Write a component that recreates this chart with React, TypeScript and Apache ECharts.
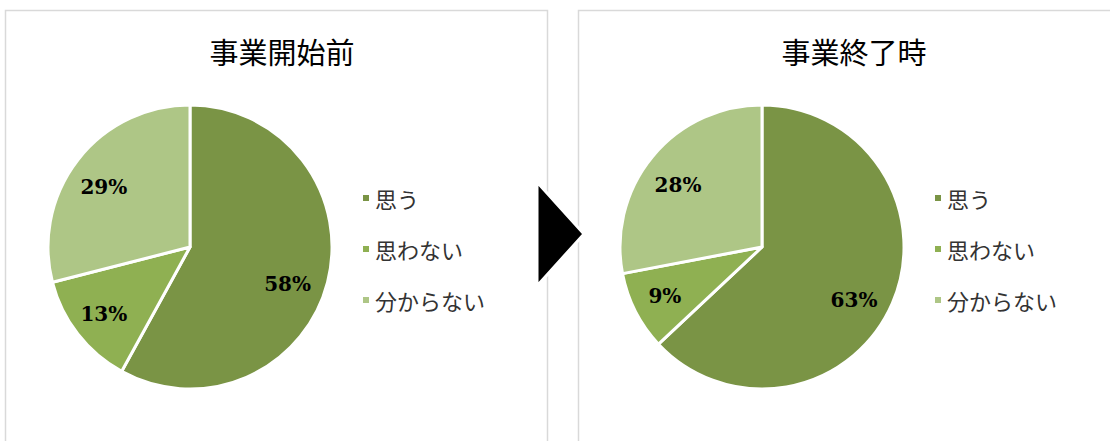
import React, { useEffect, useRef } from "react";
import * as echarts from "echarts";

const categories = ["思う", "思わない", "分からない"];
const beforeValues = [58, 13, 29];
const afterValues = [63, 9, 28];
const titles = ["事業開始前", "事業終了時"];
const colors = ["#7A9445", "#8FB052", "#AEC686"];

const PIE_R = 142;
const LABEL_R = 106;
const LABEL_OFFSETS: Record<number, number[]> = { 0: [-8, 10], 2: [0, 7] };

function buildData(values: number[], withOffset: boolean) {
  return categories.map((name, i) => {
    const item: any = { name, value: values[i] };
    if (withOffset && LABEL_OFFSETS[i]) item.label = { offset: LABEL_OFFSETS[i] };
    return item;
  });
}

function pieSeries(values: number[], cx: number, cy: number) {
  return [
    {
      type: "pie",
      center: [cx, cy],
      radius: [0, PIE_R],
      startAngle: 90,
      clockwise: true,
      silent: true,
      data: buildData(values, false),
      itemStyle: { borderColor: "#ffffff", borderWidth: 3 },
      label: { show: false },
      labelLine: { show: false },
    },
    {
      type: "pie",
      center: [cx, cy],
      radius: [0, LABEL_R * 2],
      startAngle: 90,
      clockwise: true,
      silent: true,
      data: buildData(values, true),
      itemStyle: { color: "rgba(0,0,0,0)", borderWidth: 0 },
      label: {
        show: true,
        position: "inside",
        formatter: "{c}%",
        fontFamily: "DejaVu Serif",
        fontWeight: "bold",
        fontSize: 20,
        color: "#000000",
      },
      labelLine: { show: false },
    },
  ];
}

function legendAt(left: number) {
  return {
    orient: "vertical",
    left,
    top: 182,
    icon: "rect",
    itemWidth: 8,
    itemHeight: 8,
    itemGap: 29,
    data: categories,
    selectedMode: false,
    textStyle: {
      fontFamily: "Noto Sans CJK JP",
      fontSize: 22,
      lineHeight: 22,
      color: "#333333",
      padding: [0, 0, 0, 0],
    },
  };
}

export default function App() {
  const ref = useRef<HTMLDivElement>(null);
  useEffect(() => {
    if (!ref.current) return;
    const chart = echarts.init(ref.current, null, { renderer: "svg" });
    chart.setOption({
      animation: false,
      color: colors,
      backgroundColor: "#ffffff",
      title: [
        {
          text: titles[0],
          left: 277,
          top: 31,
          textAlign: "center",
          textStyle: { fontFamily: "Noto Sans CJK JP", fontSize: 29, fontWeight: "normal", color: "#000000" },
        },
        {
          text: titles[1],
          left: 849,
          top: 31,
          textAlign: "center",
          textStyle: { fontFamily: "Noto Sans CJK JP", fontSize: 29, fontWeight: "normal", color: "#000000" },
        },
      ],
      legend: [legendAt(356), legendAt(928)],
      graphic: [
        {
          type: "rect",
          shape: { x: 5.5, y: 10.5, width: 542, height: 460 },
          style: { fill: "none", stroke: "#D9D9D9", lineWidth: 1.5 },
          z: 0,
        },
        {
          type: "rect",
          shape: { x: 578.5, y: 10.5, width: 560, height: 460 },
          style: { fill: "none", stroke: "#D9D9D9", lineWidth: 1.5 },
          z: 0,
        },
        {
          type: "polygon",
          shape: { points: [[537, 182], [584, 234], [537, 286]] },
          style: { fill: "#000000", stroke: "#ffffff", lineWidth: 3 },
          z: 10,
        },
      ],
      series: [...pieSeries(beforeValues, 190, 247), ...pieSeries(afterValues, 762, 247)],
    });
    return () => chart.dispose();
  }, []);
  return (
    <div
      ref={ref}
      style={{ position: "fixed", left: 0, top: 0, width: 1110, height: 441 }}
    />
  );
}
